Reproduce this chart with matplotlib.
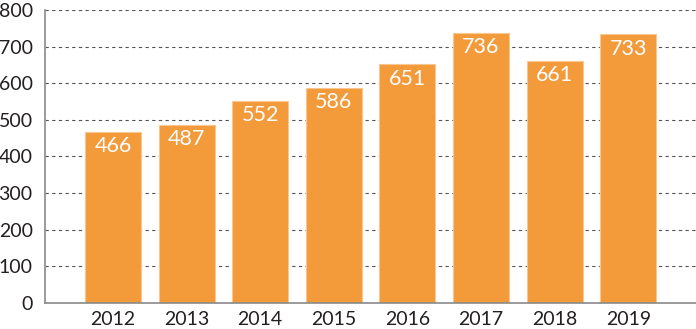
import matplotlib.pyplot as plt
import numpy as np

plt.rcParams['font.family'] = ['Lato', 'DejaVu Sans']

years = ['2012', '2013', '2014', '2015', '2016', '2017', '2018', '2019']
values = [466, 487, 552, 586, 651, 736, 661, 733]

fig = plt.figure(figsize=(6.96, 3.29), dpi=100)
ax = fig.add_axes([0.065, 0.079, 0.935, 0.891])

x = np.arange(len(years))
bars = ax.bar(x, values, width=0.76, color='#F39A3B', edgecolor='#F8C890', linewidth=0.8, zorder=2)

for xi, v in zip(x, values):
    ax.annotate(str(v), (xi, v), xytext=(0, -3), textcoords='offset points',
                ha='center', va='top', color='white', fontsize=15.5, zorder=3)

ax.set_xlim(-0.92, len(years) - 1 + 0.92)
ax.set_ylim(0, 800)
ax.set_yticks(range(0, 801, 100))
ax.set_xticks(x)
ax.set_xticklabels(years)
ax.tick_params(length=0, labelsize=14, colors='#231F20')
ax.tick_params(axis='y', pad=9)
ax.tick_params(axis='x', pad=6)

ax.yaxis.grid(True, linestyle=(0, (3, 3)), color='#555555', linewidth=0.8, zorder=1)
ax.set_axisbelow(True)
for s in ['top', 'right']:
    ax.spines[s].set_visible(False)
for s in ['left', 'bottom']:
    ax.spines[s].set_color('#8A8A8A')
    ax.spines[s].set_linewidth(1.2)

fig.savefig('out.png', dpi=100)
